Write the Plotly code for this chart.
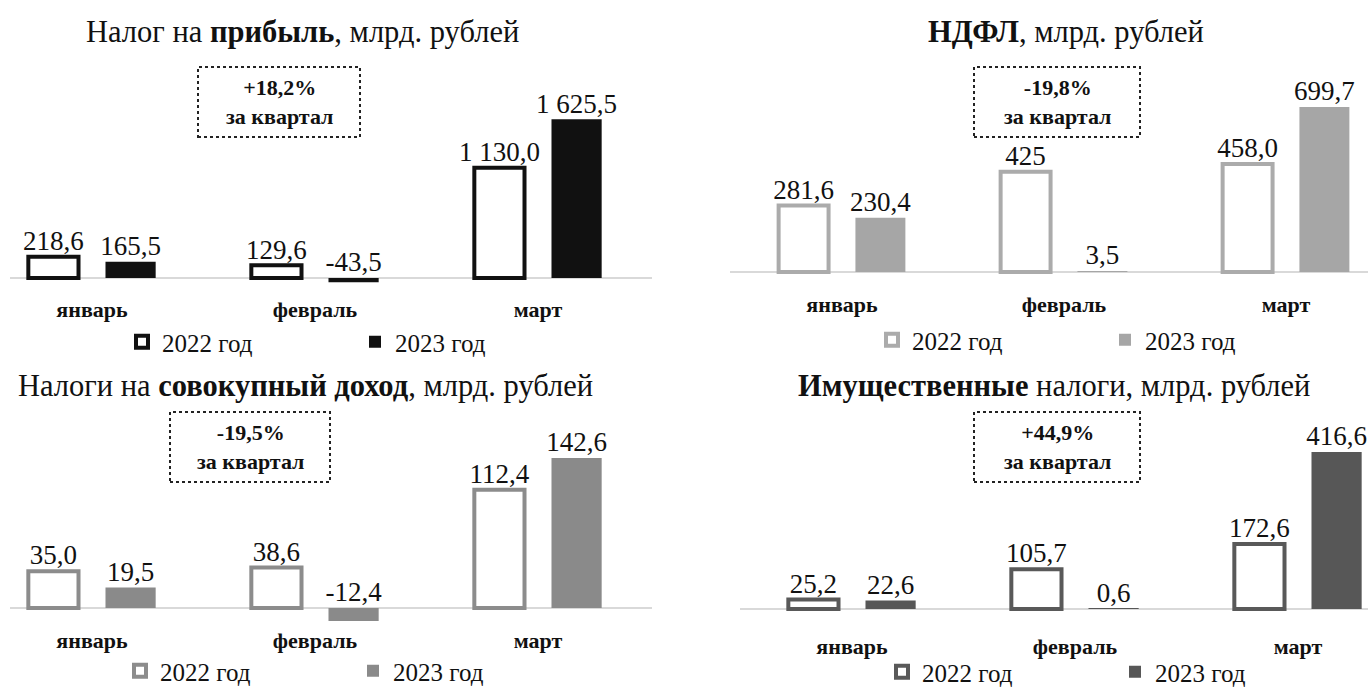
import plotly.graph_objects as go

# ---- data -------------------------------------------------------------
months = ["январь", "февраль", "март"]
series_names = ["2022 год", "2023 год"]

profit_2022 = [218.6, 129.6, 1130.0]
profit_2023 = [165.5, -43.5, 1625.5]
profit_lbl_2022 = ["218,6", "129,6", "1 130,0"]
profit_lbl_2023 = ["165,5", "-43,5", "1 625,5"]

ndfl_2022 = [281.6, 425.0, 458.0]
ndfl_2023 = [230.4, 3.5, 699.7]
ndfl_lbl_2022 = ["281,6", "425", "458,0"]
ndfl_lbl_2023 = ["230,4", "3,5", "699,7"]

income_2022 = [35.0, 38.6, 112.4]
income_2023 = [19.5, -12.4, 142.6]
income_lbl_2022 = ["35,0", "38,6", "112,4"]
income_lbl_2023 = ["19,5", "-12,4", "142,6"]

property_2022 = [25.2, 105.7, 172.6]
property_2023 = [22.6, 0.6, 416.6]
property_lbl_2022 = ["25,2", "105,7", "172,6"]
property_lbl_2023 = ["22,6", "0,6", "416,6"]

quarter_change = ["+18,2%", "-19,8%", "-19,5%", "+44,9%"]

# ---- page geometry ----------------------------------------------------
W, H = 1368, 687
FONT = "Liberation Serif"


def px(x):
    return x / W


def py(y):
    return 1 - y / H


# per panel: x extent of axis, first category centre, spacing,
# y domain (top, bottom), baseline pixel, px per unit, colours
panels = [
    dict(title="Налог на <b>прибыль</b>, млрд. рублей", tx=302, ty=32,
         v22=profit_2022, v23=profit_2023, l22=profit_lbl_2022, l23=profit_lbl_2023,
         x0=10, x1=652, c0=92, step=223, top=60, bot=292, base=278, k=0.0976,
         line22="#111111", fill23="#111111",
         box=(198, 67, 360, 137), change=quarter_change[0],
         leg=(122, 342)),
    dict(title="<b>НДФЛ</b>, млрд. рублей", tx=1066, ty=32,
         v22=ndfl_2022, v23=ndfl_2023, l22=ndfl_lbl_2022, l23=ndfl_lbl_2023,
         x0=730, x1=1368, c0=842, step=222, top=60, bot=287, base=272, k=0.2358,
         line22="#ababab", fill23="#a6a6a6",
         box=(974, 67, 1140, 137), change=quarter_change[1],
         leg=(872, 340)),
    dict(title="Налоги на <b>совокупный доход</b>, млрд. рублей", tx=305, ty=386,
         v22=income_2022, v23=income_2023, l22=income_lbl_2022, l23=income_lbl_2023,
         x0=10, x1=652, c0=92, step=223, top=400, bot=623, base=608, k=1.052,
         line22="#8c8c8c", fill23="#8a8a8a",
         box=(170, 412, 330, 482), change=quarter_change[2],
         leg=(120, 671)),
    dict(title="<b>Имущественные</b> налоги, млрд. рублей", tx=1054, ty=386,
         v22=property_2022, v23=property_2023, l22=property_lbl_2022, l23=property_lbl_2023,
         x0=740, x1=1368, c0=852, step=223, top=400, bot=629, base=609, k=0.377,
         line22="#595959", fill23="#575757",
         box=(974, 412, 1140, 482), change=quarter_change[3],
         leg=(882, 672)),
]

fig = go.Figure()
annotations = []
shapes = []
layout_axes = {}

offset = 0.173      # half distance between the two bars of a month (category units)
bar_w = 0.225       # bar width (category units)

for i, p in enumerate(panels, start=1):
    xa = "x" if i == 1 else f"x{i}"
    ya = "y" if i == 1 else f"y{i}"
    leg = "legend" if i == 1 else f"legend{i}"
    idx = list(range(len(months)))
    x22 = [j - offset for j in idx]
    x23 = [j + offset for j in idx]

    fig.add_trace(go.Bar(
        x=x22, y=p["v22"], width=bar_w, name=series_names[0],
        marker=dict(color="white", line=dict(color=p["line22"], width=4)),
        xaxis=xa, yaxis=ya, legend=leg, hoverinfo="skip"))
    fig.add_trace(go.Bar(
        x=x23, y=p["v23"], width=bar_w, name=series_names[1],
        marker=dict(color=p["fill23"], line=dict(color=p["fill23"], width=0)),
        xaxis=xa, yaxis=ya, legend=leg, hoverinfo="skip"))

    # value labels sit above the bar top, or above the baseline for negatives
    for xs, vals, labels in ((x22, p["v22"], p["l22"]), (x23, p["v23"], p["l23"])):
        fig.add_trace(go.Scatter(
            x=xs, y=[max(v, 0) for v in vals], text=labels,
            mode="text", textposition="top center",
            textfont=dict(family=FONT, size=27, color="#111111"),
            xaxis=xa, yaxis=ya, showlegend=False, hoverinfo="skip",
            cliponaxis=False))

    # axes
    rng_x = [(p["x0"] - p["c0"]) / p["step"], (p["x1"] - p["c0"]) / p["step"]]
    rng_y = [-(p["bot"] - p["base"]) / p["k"], (p["base"] - p["top"]) / p["k"]]
    xkey = "xaxis" if i == 1 else f"xaxis{i}"
    ykey = "yaxis" if i == 1 else f"yaxis{i}"
    layout_axes[xkey] = dict(
        domain=[px(p["x0"]), px(p["x1"])], range=rng_x, anchor=ya,
        tickvals=idx, ticktext=months, showgrid=False, zeroline=False,
        showline=False, ticks="", ticklabelstandoff=2, automargin=False,
        tickfont=dict(family=FONT, size=22, color="#111111", weight="bold"),
        fixedrange=True)
    layout_axes[ykey] = dict(
        domain=[py(p["bot"]), py(p["top"])], range=rng_y, anchor=xa,
        showgrid=False, showticklabels=False, zeroline=True, automargin=False,
        zerolinecolor="#d9d9d9", zerolinewidth=2, fixedrange=True)

    # legend (container coordinates so it never pushes the margins)
    layout_axes[leg] = dict(
        orientation="h", x=px(p["leg"][0]), y=py(p["leg"][1]),
        xref="container", yref="container",
        xanchor="left", yanchor="middle", bgcolor="rgba(0,0,0,0)",
        entrywidth=188, entrywidthmode="pixels", itemwidth=30,
        font=dict(family=FONT, size=25, color="#111111"),
        tracegroupgap=0, itemclick=False, itemdoubleclick=False)

    # panel title
    annotations.append(dict(
        text=p["title"], x=px(p["tx"]), y=py(p["ty"]), xref="paper", yref="paper",
        showarrow=False, xanchor="center", yanchor="middle",
        font=dict(family=FONT, size=30.5, color="#111111")))

    # quarter change callout
    bx0, by0, bx1, by1 = p["box"]
    shapes.append(dict(
        type="rect", xref="paper", yref="paper",
        x0=px(bx0), x1=px(bx1), y0=py(by1), y1=py(by0),
        line=dict(color="#222222", width=2, dash="dot"), fillcolor="white",
        layer="below"))
    annotations.append(dict(
        text=f"<b>{p['change']}</b><br><b>за квартал</b>",
        x=px((bx0 + bx1) / 2), y=py((by0 + by1) / 2), xref="paper", yref="paper",
        showarrow=False, xanchor="center", yanchor="middle", align="center",
        font=dict(family=FONT, size=22, color="#111111")))

fig.update_layout(
    template="none",
    width=W, height=H, margin=dict(l=0, r=0, t=0, b=0, autoexpand=False),
    autosize=False,
    paper_bgcolor="white", plot_bgcolor="rgba(0,0,0,0)",
    barmode="overlay", showlegend=True,
    annotations=annotations, shapes=shapes,
    font=dict(family=FONT, color="#111111"),
    **layout_axes)

fig.write_html("out.html", config={"displayModeBar": False, "responsive": False})
